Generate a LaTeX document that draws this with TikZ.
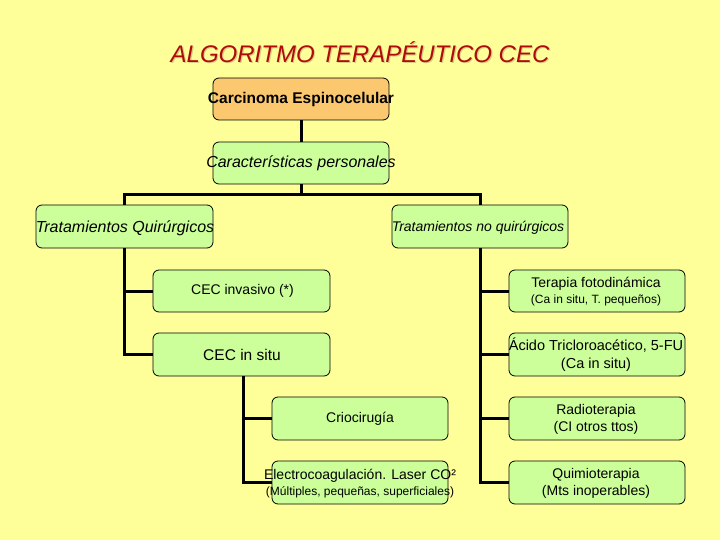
\documentclass[tikz,border=0pt]{standalone}
\usepackage{fontspec}
\setmainfont{Liberation Sans}
\definecolor{bg}{HTML}{FFFF99}
\definecolor{gfill}{HTML}{CCFF99}
\definecolor{ofill}{HTML}{FBC870}
\definecolor{ttl}{HTML}{B00A0A}
\definecolor{shd}{HTML}{D6CE80}
\begin{document}
\begin{tikzpicture}[x=1pt,y=-1pt,
  box/.style={draw=black, line width=0.8pt, rounded corners=6pt, fill=gfill,
    minimum width=176pt, minimum height=42pt, inner sep=0pt},
  lbl/.style={inner sep=0pt, align=center, font=\fontsize{14}{17}\selectfont},
  conn/.style={line width=3pt}]
\fill[bg] (0,0) rectangle (720,540);
\useasboundingbox (0,0) rectangle (720,540);
% title
\node[inner sep=0pt, text=shd, font=\fontsize{24}{28}\selectfont\itshape] (tsh) at (361.2,53.7) {ALGORITMO TERAPÉUTICO CEC};
\node[inner sep=0pt, text=ttl, font=\fontsize{24}{28}\selectfont\itshape] (title) at (360,52.5) {ALGORITMO TERAPÉUTICO CEC};
% boxes
\node[box, fill=ofill] (c1) at (301,99) {};
\node[box] (c2) at (301,163) {};
\node[box, minimum width=177pt, minimum height=43pt] (tq) at (124.5,226.5) {};
\node[box, minimum height=43pt] (tnq) at (480,226.5) {};
\node[box, minimum width=177pt] (inv) at (241.5,291) {};
\node[box, minimum width=177pt, minimum height=43pt] (situ) at (241.5,354.5) {};
\node[box] (terf) at (597,291) {};
\node[box, minimum height=43pt] (acido) at (597,354.5) {};
\node[box, minimum height=43pt] (crio) at (360,418.5) {};
\node[box, minimum height=43pt] (radio) at (597,418.5) {};
\node[box, minimum height=43pt] (electro) at (360,482.5) {};
\node[box, minimum height=43pt] (quimio) at (597,482.5) {};
% texts
\node[lbl, font=\fontsize{15.5}{18}\selectfont\bfseries] (c1t) at (c1) {Carcinoma Espinocelular};
\node[lbl, font=\fontsize{16}{19}\selectfont\itshape] (c2t) at (c2) {Características personales};
\node[lbl, font=\fontsize{16}{19}\selectfont\itshape] (tqt) at (125,228) {Tratamientos Quirúrgicos};
\node[lbl, font=\fontsize{14}{17}\selectfont\itshape] (tnqt) at (478,228) {Tratamientos no quirúrgicos};
\node[lbl] (invt) at (242.5,291) {CEC invasivo (*)};
\node[lbl, font=\fontsize{15.5}{18}\selectfont] (situt) at (242,355) {CEC in situ};
\node[lbl] (terft) at (596,291.5) {Terapia fotodinámica\\[-1pt]{\fontsize{12}{14}\selectfont (Ca in situ, T. pequeños)}};
\node[lbl, font=\fontsize{14.5}{18}\selectfont] (acidot) at (596,355) {Ácido Tricloroacético, 5-FU\\(Ca in situ)};
\node[lbl] (criot) at (360,419) {Criocirugía};
\node[lbl] (radiot) at (596,419) {Radioterapia\\(CI otros ttos)};
\node[lbl] (electrot) at (360,483.5) {Electrocoagulación. Laser CO²\\[-1pt]{\fontsize{12}{14}\selectfont (Múltiples, pequeñas, superficiales)}};
\node[lbl] (quimiot) at (596,483) {Quimioterapia\\(Mts inoperables)};
% connectors
\coordinate (j) at (301,195);
\draw[conn] (c1.south) -- (c2.south |- c2.north);
\draw[conn] (c2.south) -- (j);
\draw[conn] (tq.north) |- (j) -| (tnq.north);
\draw[conn] (tq.south) |- (situ.west);
\draw[conn] (inv.west) -- (tq.south |- inv.west);
\draw[conn] ([xshift=1.5pt]situ.south) |- (electro.west);
\draw[conn] (crio.west) -- ([xshift=1.5pt]situ.south |- crio.west);
\draw[conn] (tnq.south) |- (quimio.west);
\draw[conn] (terf.west) -- (tnq.south |- terf.west);
\draw[conn] (acido.west) -- (tnq.south |- acido.west);
\draw[conn] (radio.west) -- (tnq.south |- radio.west);
\end{tikzpicture}
\end{document}
